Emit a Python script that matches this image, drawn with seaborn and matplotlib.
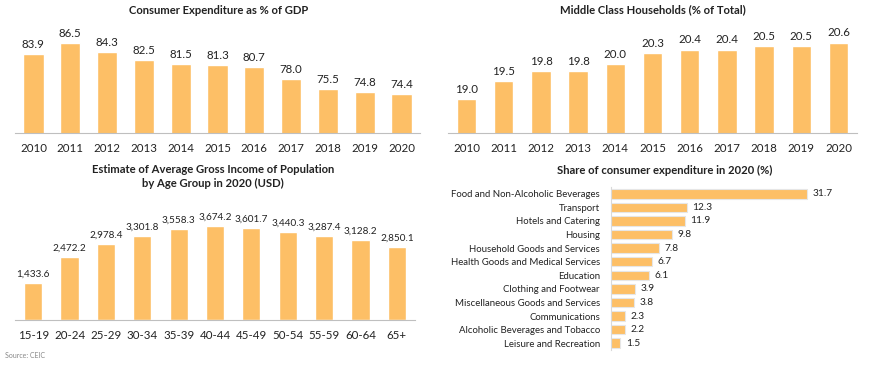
import matplotlib
matplotlib.use("Agg")
import matplotlib.pyplot as plt
import seaborn as sns
import pandas as pd

sns.set_theme(style="white")
plt.rcParams['font.family'] = ['Lato', 'DejaVu Sans']

years = ["2010", "2011", "2012", "2013", "2014", "2015", "2016", "2017", "2018", "2019", "2020"]
consumer_exp_gdp = [83.9, 86.5, 84.3, 82.5, 81.5, 81.3, 80.7, 78.0, 75.5, 74.8, 74.4]
middle_class = [19.0, 19.5, 19.8, 19.8, 20.0, 20.3, 20.4, 20.4, 20.5, 20.5, 20.6]
age_groups = ["15-19", "20-24", "25-29", "30-34", "35-39", "40-44", "45-49", "50-54", "55-59", "60-64", "65+"]
income = [1433.6, 2472.2, 2978.4, 3301.8, 3558.3, 3674.2, 3601.7, 3440.3, 3287.4, 3128.2, 2850.1]
exp_categories = ["Food and Non-Alcoholic Beverages", "Transport", "Hotels and Catering", "Housing",
                  "Household Goods and Services", "Health Goods and Medical Services", "Education",
                  "Clothing and Footwear", "Miscellaneous Goods and Services", "Communications",
                  "Alcoholic Beverages and Tobacco", "Leisure and Recreation"]
exp_share = [31.7, 12.3, 11.9, 9.8, 7.8, 6.7, 6.1, 3.9, 3.8, 2.3, 2.2, 1.5]

BAR = "#FDBF66"
TXT = "#222222"
W, H = 870, 366
fig = plt.figure(figsize=(W / 100, H / 100), dpi=100)


def ax_px(x0, y_top, x1, y_bot):
    return fig.add_axes([x0 / W, 1 - y_bot / H, (x1 - x0) / W, (y_bot - y_top) / H])


def vbars(ax, cats, vals, ymin, ymax, fmt, width, lsize):
    df = pd.DataFrame({"c": cats, "v": vals})
    sns.barplot(data=df, x="c", y="v", color=BAR, saturation=1, width=width, ax=ax)
    ax.set_ylim(ymin, ymax)
    ax.set_xlabel("")
    ax.set_ylabel("")
    ax.set_yticks([])
    for s in ["top", "right", "left"]:
        ax.spines[s].set_visible(False)
    ax.spines["bottom"].set_color("#bfbfbf")
    ax.spines["bottom"].set_linewidth(0.8)
    ax.tick_params(axis="x", length=0, pad=7, labelsize=8.3, labelcolor=TXT)
    for i, v in enumerate(vals):
        ax.annotate(fmt(v), (i, v), xytext=(0, 3), textcoords="offset points",
                    ha="center", va="bottom", fontsize=lsize, color=TXT)


# Top-left
ax1 = ax_px(15, 25, 420, 133)
vbars(ax1, years, consumer_exp_gdp, 65.2, 90.7, lambda v: f"{v:.1f}", 0.55, 8.3)
fig.text(219 / W, 1 - 10 / H, "Consumer Expenditure as % of GDP", ha="center", va="center",
         fontsize=8.1, fontweight="bold", color=TXT)

# Top-right
ax2 = ax_px(448, 25, 857, 133)
vbars(ax2, years, middle_class, 18.03, 21.1, lambda v: f"{v:.1f}", 0.52, 8.3)
fig.text(653 / W, 1 - 10 / H, "Middle Class Households (% of Total)", ha="center", va="center",
         fontsize=8.1, fontweight="bold", color=TXT)

# Bottom-left
ax3 = ax_px(15, 200, 415, 320)
vbars(ax3, age_groups, income, 0, 4690, lambda v: f"{v:,.1f}", 0.5, 7.2)
fig.text(213 / W, 1 - 176.5 / H, "Estimate of Average Gross Income of Population\nby Age Group in 2020 (USD)",
         ha="center", va="center", fontsize=8.1, fontweight="bold", color=TXT, linespacing=1.25)

# Bottom-right
ax4 = ax_px(611, 187, 855, 350)
df4 = pd.DataFrame({"c": exp_categories, "v": exp_share})
sns.barplot(data=df4, y="c", x="v", orient="h", color=BAR, saturation=1, width=0.7,
            edgecolor="#e6e6e6", linewidth=0.8, ax=ax4)
ax4.set_xlim(0, 39.5)
ax4.set_xlabel("")
ax4.set_ylabel("")
ax4.set_xticks([])
for s in ["top", "right", "bottom"]:
    ax4.spines[s].set_visible(False)
ax4.spines["left"].set_color("#d9d9d9")
ax4.spines["left"].set_linewidth(0.8)
ax4.tick_params(axis="y", length=0, pad=8, labelsize=6.9, labelcolor=TXT)
for i, v in enumerate(exp_share):
    ax4.annotate(f"{v:.1f}", (v, i), xytext=(4, 0), textcoords="offset points",
                 ha="left", va="center", fontsize=7.3, color=TXT)
fig.text(665 / W, 1 - 170 / H, "Share of consumer expenditure in 2020 (%)", ha="center", va="center",
         fontsize=8.1, fontweight="bold", color=TXT)

fig.text(5 / W, 1 - 356 / H, "Source: CEIC", ha="left", va="center", fontsize=5, color="#888888")

fig.savefig("out.png", dpi=100, facecolor="white")
